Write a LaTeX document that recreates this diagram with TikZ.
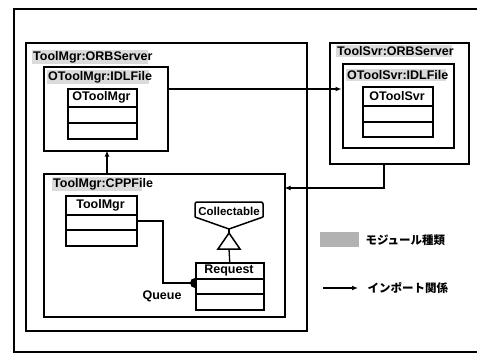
\documentclass[tikz,border=0pt]{standalone}
\usepackage{fontspec}
\setmainfont{Liberation Sans}
\newfontfamily\jpfont{Noto Sans CJK JP}
\usetikzlibrary{arrows.meta}
\begin{document}
\begin{tikzpicture}[x=1pt,y=-1pt,
  frame/.style={draw=black,line width=1.5pt},
  box/.style={draw=black,line width=1.5pt},
  lbl/.style={anchor=west,fill=black!14,inner sep=1pt,font=\bfseries\fontsize{12.5}{13}\selectfont,text width=#1},
  ctitle/.style={font=\bfseries\fontsize{12.5}{13}\selectfont},
  jp/.style={anchor=west,font=\jpfont\bfseries\fontsize{11.5}{13}\selectfont},
  imp/.style={line width=1.3pt,-{Latex[length=6pt,width=5pt]}},
  lnk/.style={line width=1.3pt}]
\useasboundingbox (0,0) rectangle (477,356);
% outer frame
\draw[frame] (477,9) -- (14,9) -- (14,352) -- (477,352);
% ToolMgr:ORBServer
\node[box,minimum width=281pt,minimum height=288pt,anchor=north west,inner sep=0] (mgrsrv) at (25,42) {};
\node[lbl=114pt] (mgrsrvl) at (32,57) {ToolMgr:ORBServer};
% OToolMgr:IDLFile
\node[box,minimum width=124pt,minimum height=84pt,anchor=north west,inner sep=0] (mgridl) at (43,66) {};
\node[lbl=100pt] (mgridll) at (47,77) {OToolMgr:IDLFile};
% OToolMgr class
\node[box,minimum width=69pt,minimum height=50pt,anchor=north west,inner sep=0] (otm) at (67,88) {};
\draw[box] (67,107) -- (136,107) (67,123) -- (136,123);
\node[ctitle] (otmt) at (101.5,97.5) {OToolMgr};
% ToolMgr:CPPFile
\node[box,minimum width=241pt,minimum height=143pt,anchor=north west,inner sep=0] (cpp) at (43,173) {};
\node[lbl=88pt] (cppl) at (52,184) {ToolMgr:CPPFile};
% ToolMgr class
\node[box,minimum width=71pt,minimum height=50pt,anchor=north west,inner sep=0] (tm) at (65,195) {};
\draw[box] (65,215) -- (136,215) (65,230) -- (136,230);
\node[ctitle] (tmt) at (100.5,205) {ToolMgr};
% Collectable
\draw[box,rounded corners=2pt] (195,217) -- (195,202) -- (263,202) -- (263,217);
\draw[box] (195,217) -- (229,229) -- (263,217);
\node[font=\bfseries\fontsize{11.5}{12}\selectfont] (coll) at (229,211) {Collectable};
% generalization
\coordinate (apex) at (229,233);
\draw[box] (apex) -- (218,249) -- (240,249) -- cycle;
\draw[lnk] (229,229) -- (apex);
% Request class
\node[box,minimum width=68pt,minimum height=47pt,anchor=north west,inner sep=0] (req) at (195,262) {};
\draw[box] (195,279) -- (263,279) (195,294) -- (263,294);
\node[ctitle] (reqt) at (229,270.5) {Request};
\draw[lnk] (229,249) -- (req.north);
% aggregation
\draw[lnk] (136,221) -- (163,221) -- (163,283) -- (195,283);
\fill (195,278) arc[start angle=90,end angle=270,radius=5pt] -- cycle;
\node[ctitle,anchor=east] (queue) at (185,296) {Queue};
% ToolSvr:ORBServer
\node[box,minimum width=139pt,minimum height=121pt,anchor=north west,inner sep=0] (svrsrv) at (329,42) {};
\node[lbl=114pt] (svrsrvl) at (336,51) {ToolSvr:ORBServer};
\node[box,minimum width=111pt,minimum height=84pt,anchor=north west,inner sep=0] (svridl) at (342,63) {};
\node[lbl=98pt] (svridll) at (346,75) {OToolSvr:IDLFile};
\node[box,minimum width=70pt,minimum height=50pt,anchor=north west,inner sep=0] (ots) at (362,86) {};
\draw[box] (362,106) -- (432,106) (362,122) -- (432,122);
\node[ctitle] (otst) at (397,96) {OToolSvr};
% imports
\draw[imp] (107,173) -- (107,150.5);
\draw[imp] (167,89) -- (341.5,89);
\draw[imp] (384,163) -- (384,188) -- (284.5,188);
% legend
\node[fill=black!30,minimum width=39pt,minimum height=15pt,anchor=north west,inner sep=0] (legbox) at (320,232) {};
\node[jp] (leg1) at (362,240) {モジュール種類};
\coordinate (la) at (323,288);
\coordinate (lb) at (358,288);
\draw[imp] (la) -- (lb);
\node[jp] (leg2) at (364,288) {インポート関係};
\end{tikzpicture}
\end{document}
